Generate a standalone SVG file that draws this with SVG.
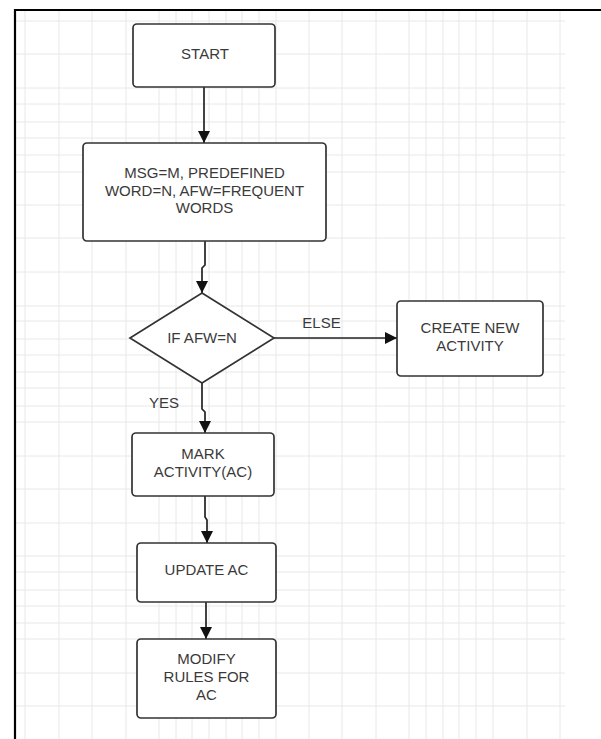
<svg xmlns="http://www.w3.org/2000/svg" width="601" height="739" viewBox="0 0 601 739">
<style>
.grid line{stroke:#e8e8e8;stroke-width:1}
.node{fill:#ffffff;stroke:#333333;stroke-width:1.7}
.t{font-family:"Liberation Sans",Arial,sans-serif;font-size:15px;fill:#3a3a3a;text-anchor:middle}
.conn path{fill:none;stroke:#222222;stroke-width:1.7}
.border{stroke:#000;stroke-width:2.2}
</style>
<defs>
<marker id="ah" markerUnits="userSpaceOnUse" markerWidth="12" markerHeight="14" refX="12" refY="6" orient="auto">
<path d="M0,0 L12,6 L0,12 Z" fill="#111"/>
</marker>
</defs>
<rect x="0" y="0" width="601" height="739" fill="#ffffff"/>
<g class="grid">
<line x1="25" y1="10" x2="25" y2="739"/><line x1="59" y1="10" x2="59" y2="739"/><line x1="92" y1="10" x2="92" y2="739"/><line x1="126" y1="10" x2="126" y2="739"/><line x1="159" y1="10" x2="159" y2="739"/><line x1="176" y1="10" x2="176" y2="739"/><line x1="192" y1="10" x2="192" y2="739"/><line x1="209" y1="10" x2="209" y2="739"/><line x1="226" y1="10" x2="226" y2="739"/><line x1="242" y1="10" x2="242" y2="739"/><line x1="259" y1="10" x2="259" y2="739"/><line x1="276" y1="10" x2="276" y2="739"/><line x1="309" y1="10" x2="309" y2="739"/><line x1="342" y1="10" x2="342" y2="739"/><line x1="376" y1="10" x2="376" y2="739"/><line x1="409" y1="10" x2="409" y2="739"/><line x1="426" y1="10" x2="426" y2="739"/><line x1="443" y1="10" x2="443" y2="739"/><line x1="459" y1="10" x2="459" y2="739"/><line x1="476" y1="10" x2="476" y2="739"/><line x1="493" y1="10" x2="493" y2="739"/><line x1="527" y1="10" x2="527" y2="739"/><line x1="560" y1="10" x2="560" y2="739"/>
<line x1="15" y1="21" x2="565" y2="21"/><line x1="15" y1="54" x2="565" y2="54"/><line x1="15" y1="88" x2="565" y2="88"/><line x1="15" y1="104" x2="565" y2="104"/><line x1="15" y1="122" x2="565" y2="122"/><line x1="15" y1="138" x2="565" y2="138"/><line x1="15" y1="155" x2="565" y2="155"/><line x1="15" y1="172" x2="565" y2="172"/><line x1="15" y1="205" x2="565" y2="205"/><line x1="15" y1="238" x2="565" y2="238"/><line x1="15" y1="272" x2="565" y2="272"/><line x1="15" y1="306" x2="565" y2="306"/><line x1="15" y1="321" x2="565" y2="321"/><line x1="15" y1="339" x2="565" y2="339"/><line x1="15" y1="355" x2="565" y2="355"/><line x1="15" y1="372" x2="565" y2="372"/><line x1="15" y1="388" x2="565" y2="388"/><line x1="15" y1="406" x2="565" y2="406"/><line x1="15" y1="422" x2="565" y2="422"/><line x1="15" y1="456" x2="565" y2="456"/><line x1="15" y1="489" x2="565" y2="489"/><line x1="15" y1="523" x2="565" y2="523"/><line x1="15" y1="556" x2="565" y2="556"/><line x1="15" y1="572" x2="565" y2="572"/><line x1="15" y1="590" x2="565" y2="590"/><line x1="15" y1="606" x2="565" y2="606"/><line x1="15" y1="623" x2="565" y2="623"/><line x1="15" y1="639" x2="565" y2="639"/><line x1="15" y1="673" x2="565" y2="673"/><line x1="15" y1="706" x2="565" y2="706"/>
</g>
<line class="border" x1="14" y1="10" x2="601" y2="10"/>
<line class="border" x1="15" y1="9" x2="15" y2="739"/>
<g class="conn">
<path d="M204,87 V143" marker-end="url(#ah)"/>
<path d="M205,241 V265 L202,268 V293" marker-end="url(#ah)"/>
<path d="M274,338 H397" marker-end="url(#ah)"/>
<path d="M202,383 V409 L205,412 V433" marker-end="url(#ah)"/>
<path d="M205,496 V517 L207,520 V543" marker-end="url(#ah)"/>
<path d="M206,602 V639" marker-end="url(#ah)"/>
</g>
<g id="start">
<rect class="node" x="133" y="24" width="142" height="63" rx="4"/>
<text class="t" x="205" y="59">START</text>
</g>
<g id="init">
<rect class="node" x="83" y="143" width="243" height="98" rx="4"/>
<text class="t" x="204.5" y="178">MSG=M, PREDEFINED</text>
<text class="t" x="204.5" y="195.5">WORD=N, AFW=FREQUENT</text>
<text class="t" x="204.5" y="213">WORDS</text>
</g>
<g id="decision">
<polygon class="node" points="202,293 274,338 202,383 130,338"/>
<text class="t" x="202" y="343">IF AFW=N</text>
</g>
<g id="create">
<rect class="node" x="397" y="301" width="146" height="75" rx="4"/>
<text class="t" x="470" y="333">CREATE NEW</text>
<text class="t" x="470" y="351">ACTIVITY</text>
</g>
<g id="mark">
<rect class="node" x="132" y="433" width="142" height="63" rx="4"/>
<text class="t" x="203" y="459">MARK</text>
<text class="t" x="203" y="477">ACTIVITY(AC)</text>
</g>
<g id="update">
<rect class="node" x="137" y="543" width="139" height="59" rx="4"/>
<text class="t" x="206.5" y="575">UPDATE AC</text>
</g>
<g id="modify">
<rect class="node" x="137" y="639" width="139" height="79" rx="4"/>
<text class="t" x="206.5" y="664">MODIFY</text>
<text class="t" x="206.5" y="682">RULES FOR</text>
<text class="t" x="206.5" y="700">AC</text>
</g>
<g id="labels">
<text class="t" x="321.5" y="328">ELSE</text>
<text class="t" x="164" y="408">YES</text>
</g>
</svg>
